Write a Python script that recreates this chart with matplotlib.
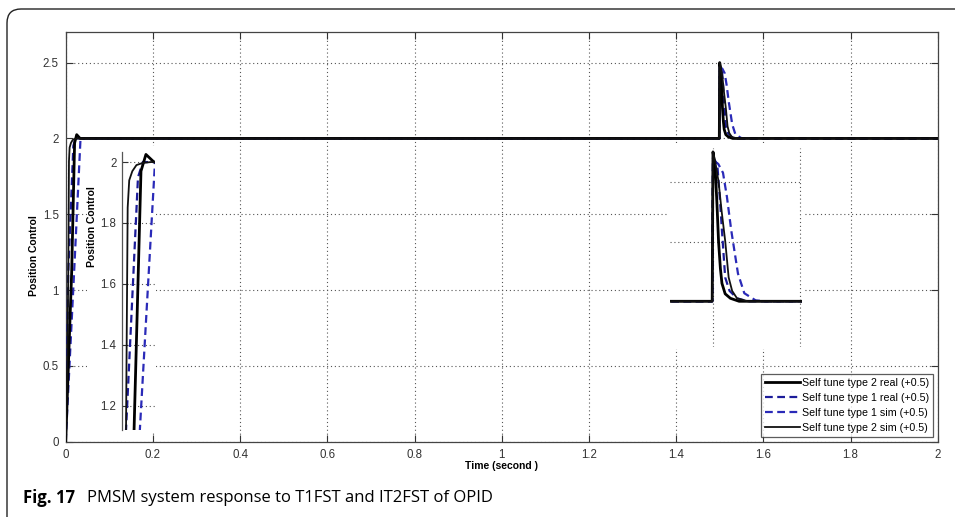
import matplotlib
matplotlib.use("Agg")
import matplotlib.pyplot as plt
from matplotlib.patches import FancyBboxPatch

# step + disturbance responses (time s, position)
t2_real_t = [0, 0.0137, 0.0204, 0.0252, 0.033, 1.4991, 1.5, 1.5015, 1.5026, 1.5045, 1.5064,
             1.5085, 1.5103, 1.514, 1.52, 1.53, 2.0]
t2_real_y = [0, 1.12, 1.97, 2.025, 2.0, 2.0, 2.5, 2.47, 2.44, 2.33, 2.2,
             2.11, 2.06, 2.025, 2.01, 2.0, 2.0]

t1_real_t = [0, 0.0059, 0.0175, 0.0222, 1.4991, 1.5, 1.5049, 1.508, 1.5103, 1.514, 1.519,
             1.5276, 1.54, 2.0]
t1_real_y = [0, 1.12, 1.95, 2.0, 2.0, 2.48, 2.46, 2.34, 2.237, 2.08, 2.035,
             2.01, 2.0, 2.0]

t1_sim_t = [0, 0.0193, 0.034, 1.4991, 1.5, 1.506, 1.5115, 1.516, 1.521, 1.5287, 1.536,
            1.549, 1.56, 2.0]
t1_sim_y = [0, 1.12, 2.0, 2.0, 2.47, 2.46, 2.43, 2.35, 2.237, 2.093, 2.027,
            2.003, 2.0, 2.0]

t2_sim_t = [0, 0.004, 0.0059, 0.0075, 0.009, 0.012, 0.016, 0.022, 0.03, 1.4991, 1.5, 1.503,
            1.5064, 1.51, 1.5141, 1.518, 1.522, 1.5276, 1.54, 2.0]
t2_sim_y = [0, 0.6, 1.12, 1.85, 1.94, 1.97, 1.99, 1.997, 2.0, 2.0, 2.5, 2.46,
            2.40, 2.3, 2.2, 2.08, 2.035, 2.01, 2.0, 2.0]

labels = ["Self tune type 2 real (+0.5)", "Self tune type 1 real (+0.5)",
          "Self tune type 1 sim (+0.5)", "Self tune type 2 sim (+0.5)"]
xticks = [0, 0.2, 0.4, 0.6, 0.8, 1, 1.2, 1.4, 1.6, 1.8, 2]
xticklabels = ["0", "0.2", "0.4", "0.6", "0.8", "1", "1.2", "1.4", "1.6", "1.8", "2"]
yticks = [0, 0.5, 1, 1.5, 2, 2.5]
yticklabels = ["0", "0.5", "1", "1.5", "2", "2.5"]
inset_yticks = [1.2, 1.4, 1.6, 1.8, 2]
inset_yticklabels = ["1.2", "1.4", "1.6", "1.8", "2"]

W, H = 955, 517
TICK_FONT = "Liberation Sans"
GRID = dict(color="#555555", linestyle=(0, (1, 2.5)), linewidth=0.8)


def px_box(x0, y0, x1, y1):
    # image pixel box (top-left origin) -> figure fraction rect
    return [x0 / W, (H - y1) / H, (x1 - x0) / W, (y1 - y0) / H]


def draw_lines(ax):
    ax.plot(t2_real_t, t2_real_y, color="black", lw=2.0, label=labels[0], zorder=5)
    ax.plot(t1_real_t, t1_real_y, color="#1c1c9a", lw=1.6, ls=(0, (3.5, 2)), label=labels[1], zorder=4)
    ax.plot(t1_sim_t, t1_sim_y, color="#2a2ab8", lw=1.6, ls=(0, (3.5, 2)), label=labels[2], zorder=3)
    ax.plot(t2_sim_t, t2_sim_y, color="#111111", lw=1.3, label=labels[3], zorder=6)


fig = plt.figure(figsize=(W / 100, H / 100), dpi=100)

# rounded frame around the figure panel
bg = fig.add_axes([0, 0, 1, 1], zorder=-5)
bg.set_xlim(0, W); bg.set_ylim(0, H); bg.axis("off")
bg.add_patch(FancyBboxPatch((7, -40), 1000, H - 9 + 40,
                            boxstyle="round,pad=0,rounding_size=14",
                            fc="none", ec="#222222", lw=1.0, clip_on=False))
bg.text(23, H - 498, "Fig. 17", fontsize=12, fontweight="bold",
        family="Open Sans", va="center", ha="left")
bg.text(87, H - 498, "PMSM system response to T1FST and IT2FST of OPID",
        fontsize=12, family="Open Sans", va="center", ha="left")

# main axes
ax = fig.add_axes(px_box(65.7, 32.3, 937.7, 441.7), zorder=0)
draw_lines(ax)
ax.set_xlim(0, 2)
ax.set_ylim(0, 2.7)
ax.set_xticks(xticks, xticklabels)
ax.set_yticks(yticks, yticklabels)
ax.grid(True, **GRID)
ax.set_axisbelow(True)
ax.tick_params(direction="in", length=5, width=0.8, top=True, right=True,
               labelsize=8.3, colors="#333333", pad=5)
for lab in ax.get_xticklabels() + ax.get_yticklabels():
    lab.set_family(TICK_FONT)
for sp in ax.spines.values():
    sp.set_color("#444444"); sp.set_linewidth(0.9)
ax.set_xlabel("Time (second )", fontsize=7.5, fontweight="bold", family=TICK_FONT)
ax.xaxis.set_label_coords(0.5, -0.047)
ax.set_ylabel("Position Control", fontsize=7.5, fontweight="bold", family=TICK_FONT)
ax.yaxis.set_label_coords(-0.031, 0.455)
leg = ax.legend(loc="lower right", bbox_to_anchor=(0.9947, 0.012),
                frameon=True, fancybox=False, edgecolor="#333333",
                handlelength=3.2, handletextpad=0.2, borderpad=0.4,
                labelspacing=0.45, borderaxespad=0,
                prop={"family": TICK_FONT, "size": 7.7})
leg.get_frame().set_linewidth(0.9)

# white cover behind the left zoom panel (incl. its label area)
cov1 = fig.add_axes(px_box(87, 146, 156, 432), zorder=1)
cov1.axis("off")
cov1.add_patch(plt.Rectangle((0, 0), 1, 1, transform=cov1.transAxes, fc="white", ec="none"))

ins1 = fig.add_axes(px_box(122, 152, 155, 430), zorder=2)
draw_lines(ins1)
ins1.set_xlim(0.002, 0.034)
ins1.set_ylim(1.12, 2.033)
ins1.set_xticks([])
ins1.set_yticks(inset_yticks, inset_yticklabels)
ins1.grid(True, axis="y", **GRID)
ins1.tick_params(direction="in", length=4, width=0.8, labelsize=8.3,
                 colors="#333333", pad=4)
for lab in ins1.get_yticklabels():
    lab.set_family(TICK_FONT)
for side in ["top", "right", "bottom"]:
    ins1.spines[side].set_visible(False)
ins1.spines["left"].set_color("#555555"); ins1.spines["left"].set_linewidth(0.9)
ins1.set_ylabel("Position Control", fontsize=7.5, fontweight="bold", family=TICK_FONT)
ins1.yaxis.set_label_coords(-0.76, 0.73)

# white cover + right zoom panel around the disturbance at t = 1.5 s
cov2 = fig.add_axes(px_box(668, 143, 804, 349), zorder=1)
cov2.axis("off")
cov2.add_patch(plt.Rectangle((0, 0), 1, 1, transform=cov2.transAxes, fc="white", ec="none"))

ins2 = fig.add_axes(px_box(670, 148, 802, 347), zorder=2)
draw_lines(ins2)
ins2.set_xlim(1.4506, 1.6023)
ins2.set_ylim(1.847, 2.513)
ins2.set_xticks([1.5, 1.6])
ins2.set_yticks([2.2, 2.4])
ins2.grid(True, **GRID)
ins2.tick_params(length=0, labelbottom=False, labelleft=False)
for sp in ins2.spines.values():
    sp.set_visible(False)
ins2.patch.set_alpha(0)

fig.savefig("out.png", dpi=100)
